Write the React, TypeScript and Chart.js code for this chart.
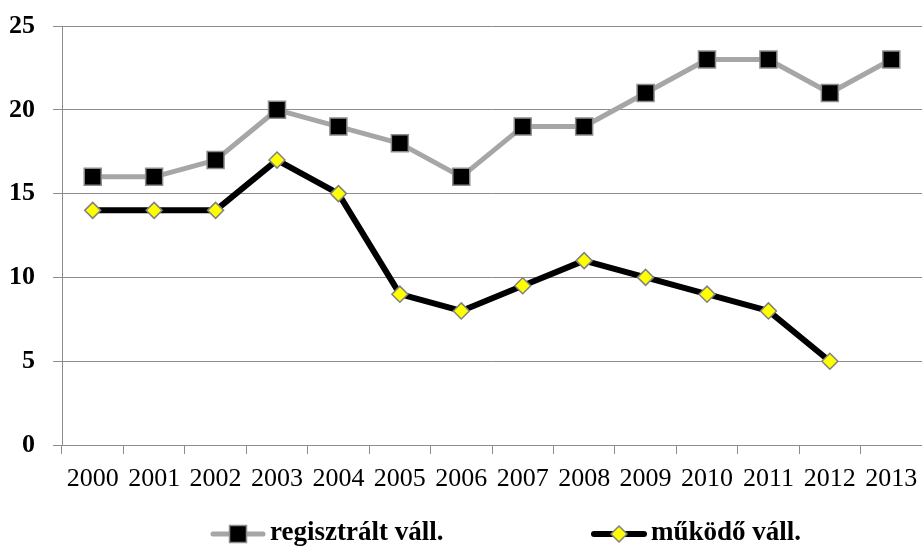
import React, { useEffect, useRef } from 'react';
import { Chart, registerables } from 'chart.js';

Chart.register(...registerables);

const years = ['2000', '2001', '2002', '2003', '2004', '2005', '2006', '2007', '2008', '2009', '2010', '2011', '2012', '2013'];
const registered = [16, 16, 17, 20, 19, 18, 16, 19, 19, 21, 23, 23, 21, 23];
const operating: (number | null)[] = [14, 14, 14, 17, 15, 9, 8, 9.5, 11, 10, 9, 8, 5, null];
const seriesLabels = ['regisztrált váll.', 'működő váll.'];
const yMin = 0;
const yMax = 25;
const yStep = 5;

const FONT = '"Liberation Serif", "Times New Roman", serif';
const GRID = '#8c8c8c';

function drawMarker(ctx: CanvasRenderingContext2D, style: string, x: number, y: number, r: number, fill: string, stroke: string, bw: number) {
  ctx.beginPath();
  if (style === 'rect') {
    const s = r * Math.SQRT1_2;
    ctx.rect(x - s, y - s, 2 * s, 2 * s);
  } else {
    ctx.moveTo(x, y - r);
    ctx.lineTo(x + r, y);
    ctx.lineTo(x, y + r);
    ctx.lineTo(x - r, y);
    ctx.closePath();
  }
  ctx.fillStyle = fill;
  ctx.fill();
  ctx.lineWidth = bw;
  ctx.strokeStyle = stroke;
  ctx.stroke();
}

const legendPos = [
  { x: 211, textX: 270 },
  { x: 592, textX: 651 },
];

const legendPlugin = {
  id: 'excelLegend',
  afterDraw(chart: any) {
    const ctx: CanvasRenderingContext2D = chart.ctx;
    const y = 534;
    chart.data.datasets.forEach((ds: any, i: number) => {
      const p = legendPos[i];
      ctx.save();
      ctx.strokeStyle = ds.borderColor;
      ctx.lineWidth = ds.borderWidth;
      ctx.lineCap = 'round';
      ctx.beginPath();
      ctx.moveTo(p.x + 2, y);
      ctx.lineTo(p.x + 52, y);
      ctx.stroke();
      drawMarker(ctx, ds.pointStyle, p.x + 27, y, ds.pointRadius, ds.pointBackgroundColor, ds.pointBorderColor, ds.pointBorderWidth);
      ctx.fillStyle = '#000';
      ctx.font = 'bold 27px ' + FONT;
      ctx.textAlign = 'left';
      ctx.textBaseline = 'middle';
      ctx.fillText(ds.label, p.textX, y - 1);
      ctx.restore();
    });
  },
};

export default function App() {
  const ref = useRef<HTMLCanvasElement | null>(null);
  useEffect(() => {
    if (!ref.current) return;
    const chart = new Chart(ref.current, {
      type: 'line',
      data: {
        labels: years,
        datasets: [
          {
            label: seriesLabels[0],
            data: registered,
            borderColor: '#a6a6a6',
            backgroundColor: '#a6a6a6',
            borderWidth: 5,
            pointStyle: 'rect',
            pointRadius: 12,
            pointHoverRadius: 12,
            pointBackgroundColor: '#000000',
            pointBorderColor: '#8c8c8c',
            pointBorderWidth: 1.5,
            tension: 0,
            borderJoinStyle: 'round',
            clip: false,
          } as any,
          {
            label: seriesLabels[1],
            data: operating,
            borderColor: '#000000',
            backgroundColor: '#000000',
            borderWidth: 6,
            pointStyle: 'rectRot',
            pointRadius: 8,
            pointHoverRadius: 8,
            pointBackgroundColor: '#ffff00',
            pointBorderColor: '#808080',
            pointBorderWidth: 1.5,
            tension: 0,
            borderJoinStyle: 'round',
            clip: false,
          } as any,
        ],
      },
      options: {
        responsive: false,
        animation: false,
        layout: { autoPadding: false, padding: { top: 26, right: 0, bottom: 55, left: 0 } },
        plugins: {
          legend: { display: false },
          tooltip: { enabled: false },
        },
        scales: {
          x: {
            offset: true,
            grid: {
              offset: true,
              drawOnChartArea: false,
              drawTicks: true,
              tickLength: 9,
              color: GRID,
              lineWidth: 1,
            },
            border: { display: true, color: GRID, width: 1 },
            ticks: {
              color: '#000',
              font: { family: FONT, size: 26 },
              padding: 10,
              maxRotation: 0,
              autoSkip: false,
            },
            afterFit: (s: any) => {
              s.height = 47;
              s.paddingLeft = 0;
              s.paddingRight = 0;
            },
          },
          y: {
            min: yMin,
            max: yMax,
            grid: { color: GRID, lineWidth: 1, tickLength: 9 },
            border: { display: true, color: GRID, width: 1 },
            ticks: {
              stepSize: yStep,
              color: '#000',
              font: { family: FONT, size: 26, weight: 'bold' },
              padding: 18,
            },
            afterFit: (s: any) => {
              s.width = 62;
              s.paddingTop = 0;
              s.paddingBottom = 0;
            },
          },
        },
      },
      plugins: [legendPlugin],
    });
    return () => chart.destroy();
  }, []);
  return (
    <div style={{ position: 'absolute', left: 0, top: 0, width: 922, height: 547, background: '#fff' }}>
      <canvas ref={ref} width={922} height={547} style={{ display: 'block' }} />
    </div>
  );
}
